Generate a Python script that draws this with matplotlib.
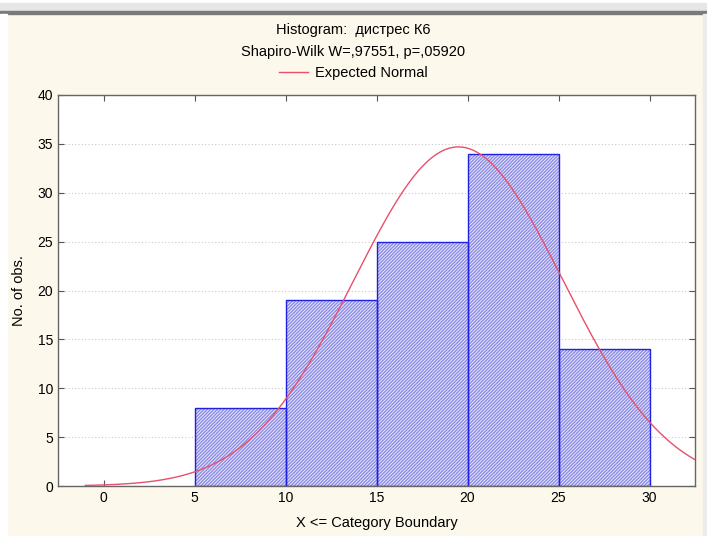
import numpy as np
import matplotlib
matplotlib.use("Agg")
import matplotlib.pyplot as plt
from matplotlib.lines import Line2D

plt.rcParams['font.family'] = ['Liberation Sans', 'DejaVu Sans']
plt.rcParams['hatch.linewidth'] = 1.0

# histogram data
bin_edges = [5, 10, 15, 20, 25, 30]
counts = [8, 19, 25, 34, 14]
n_obs = 100
# expected normal fit
fit_mean = 19.5
fit_sd = 5.75
curve_start = -1.0
curve_end = 32.5

title1 = "Histogram:  дистрес К6"
title2 = "Shapiro-Wilk W=,97551, p=,05920"

bg = '#fdf8ec'
fig = plt.figure(figsize=(7.07, 5.36), dpi=100, facecolor=bg)
ax = fig.add_axes([58/707, 1 - 486/536, (695-58)/707, (486-95)/536])
ax.set_facecolor('white')

lefts = bin_edges[:-1]
widths = np.diff(bin_edges)
# hatched fill, then solid blue outline
ax.bar(lefts, counts, width=widths, align='edge', facecolor='#e8e8fb',
       edgecolor='#8c8ce6', hatch='//////////', linewidth=0, zorder=2)
ax.bar(lefts, counts, width=widths, align='edge', fill=False,
       edgecolor='#2020e0', linewidth=1.0, zorder=2)

xs = np.linspace(curve_start, curve_end, 400)
binw = bin_edges[1] - bin_edges[0]
ys = n_obs * binw / (fit_sd * np.sqrt(2*np.pi)) * np.exp(-0.5*((xs-fit_mean)/fit_sd)**2)
ax.plot(xs, ys, color='#e8506a', lw=1.0, zorder=3)

ax.set_xlim(-2.5, 32.5)
ax.set_ylim(0, 40)
ax.set_xticks(range(0, 31, 5))
ax.set_yticks(range(0, 41, 5))
ax.grid(axis='y', color='#c8c8c8', linestyle=(0, (1, 2)), lw=0.8, zorder=0)
ax.tick_params(direction='in', top=True, right=True, length=4, labelsize=10,
               color='#555555')
for s in ax.spines.values():
    s.set_color('#666666')
    s.set_linewidth(1.0)

ax.set_xlabel("X <= Category Boundary", fontsize=10.5, labelpad=8)
ax.set_ylabel("No. of obs.", fontsize=10.5, labelpad=8)

fig.text(0.5, 1 - 30/536, title1, ha='center', va='center', fontsize=10.5)
fig.text(0.5, 1 - 52/536, title2, ha='center', va='center', fontsize=10.5)
h = Line2D([], [], color='#e8506a', lw=1.0)
fig.legend([h], ["Expected Normal"], loc='center', bbox_to_anchor=(0.5, 1 - 73/536),
           frameon=False, fontsize=10.5, handlelength=2.0, handletextpad=0.5)

# window chrome around the chart
def strip(x0, y0, w, hgt, c):
    fig.patches.append(plt.Rectangle((x0/707, 1 - (y0+hgt)/536), w/707, hgt/536,
                                     transform=fig.transFigure, color=c, zorder=-1))

strip(0, 0, 707, 3, 'white')
strip(0, 3, 707, 8, '#e6e6e6')
strip(0, 11, 707, 3, '#7a7a7a')
strip(0, 14, 7, 522, 'white')
strip(703, 14, 4, 522, '#ececec')

fig.savefig("out.png", dpi=100, facecolor=bg)
